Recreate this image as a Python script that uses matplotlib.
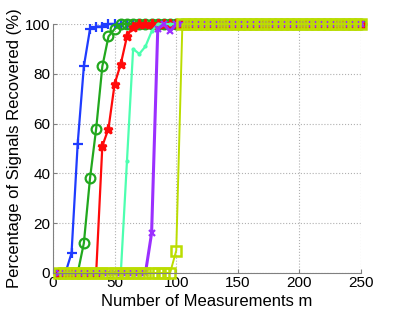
import matplotlib
matplotlib.use('Agg')
import matplotlib.pyplot as plt

# number of measurements m
m = [5, 10, 15, 20, 25, 30, 35, 40, 45, 50,
     55, 60, 65, 70, 75, 80, 85, 90, 95, 100,
     105, 110, 115, 120, 125, 130, 135, 140, 145, 150,
     155, 160, 165, 170, 175, 180, 185, 190, 195, 200,
     205, 210, 215, 220, 225, 230, 235, 240, 245, 250]

# percentage of signals recovered, one list per curve
blue = [0, 0, 8, 52, 83, 98, 99, 99, 100, 100,
        100, 100, 100, 100, 100, 100, 100, 100, 100, 100,
        100, 100, 100, 100, 100, 100, 100, 100, 100, 100,
        100, 100, 100, 100, 100, 100, 100, 100, 100, 100,
        100, 100, 100, 100, 100, 100, 100, 100, 100, 100]
green = [0, 0, 0, 0, 12, 38, 58, 83, 95, 98,
         100, 100, 100, 100, 100, 100, 100, 100, 100, 100,
         100, 100, 100, 100, 100, 100, 100, 100, 100, 100,
         100, 100, 100, 100, 100, 100, 100, 100, 100, 100,
         100, 100, 100, 100, 100, 100, 100, 100, 100, 100]
red = [0, 0, 0, 0, 0, 0, 0, 51, 58, 76,
       84, 95, 99, 100, 100, 100, 100, 100, 100, 100,
       100, 100, 100, 100, 100, 100, 100, 100, 100, 100,
       100, 100, 100, 100, 100, 100, 100, 100, 100, 100,
       100, 100, 100, 100, 100, 100, 100, 100, 100, 100]
cyan = [0, 0, 0, 0, 0, 0, 0, 0, 0, 0,
        0, 45, 90, 88, 91, 97, 100, 100, 100, 100,
        100, 100, 100, 100, 100, 100, 100, 100, 100, 100,
        100, 100, 100, 100, 100, 100, 100, 100, 100, 100,
        100, 100, 100, 100, 100, 100, 100, 100, 100, 100]
purple = [0, 0, 0, 0, 0, 0, 0, 0, 0, 0,
          0, 0, 0, 0, 0, 16, 98, 100, 97, 100,
          100, 100, 100, 100, 100, 100, 100, 100, 100, 100,
          100, 100, 100, 100, 100, 100, 100, 100, 100, 100,
          100, 100, 100, 100, 100, 100, 100, 100, 100, 100]
yellow = [0, 0, 0, 0, 0, 0, 0, 0, 0, 0,
          0, 0, 0, 0, 0, 0, 0, 0, 0, 9,
          100, 100, 100, 100, 100, 100, 100, 100, 100, 100,
          100, 100, 100, 100, 100, 100, 100, 100, 100, 100,
          100, 100, 100, 100, 100, 100, 100, 100, 100, 100]

xticks = [0, 50, 100, 150, 200, 250]
yticks = [0, 20, 40, 60, 80, 100]

plt.rcParams['font.family'] = ['Liberation Sans', 'DejaVu Sans']

fig = plt.figure(figsize=(4.02, 3.12), dpi=100)
ax = fig.add_axes([0.132, 0.125, 0.766, 0.798])

ax.plot(m, blue, '+-', color='#1f3cff', lw=1.6, ms=7, mew=1.6, clip_on=False)
ax.plot(m, green, 'o-', color='#22a81e', lw=1.6, ms=7, mew=1.6, mfc='none', clip_on=False)
ax.plot(m, red, '*-', color='#ff0a0a', lw=1.6, ms=6.5, mew=1.8, clip_on=False)
ax.plot(m, cyan, '.-', color='#4dffb0', lw=1.6, ms=4, clip_on=False)
ax.plot(m, purple, 'x-', color='#9b30ff', lw=2.2, ms=5, mew=1.6, clip_on=False)
ax.plot(m, yellow, 's-', color='#bbdd00', lw=1.4, ms=7.5, mew=1.8, mfc='none', clip_on=False)

ax.set_xlim(0, 250)
ax.set_ylim(0, 100)
ax.set_xticks(xticks)
ax.set_yticks(yticks)
ax.grid(True, linestyle=':', color='#b0b0b0', lw=0.8)
ax.set_axisbelow(True)
for s in ['top', 'right']:
    ax.spines[s].set_visible(False)
for s in ['left', 'bottom']:
    ax.spines[s].set_color('#808080')
ax.tick_params(direction='in', length=3, color='#808080', labelsize=11, pad=2)
ax.set_xlabel('Number of Measurements m', fontsize=12, labelpad=3)
ax.set_ylabel('Percentage of Signals Recovered (%)', fontsize=12, labelpad=2)

fig.savefig('out.png', dpi=100)
